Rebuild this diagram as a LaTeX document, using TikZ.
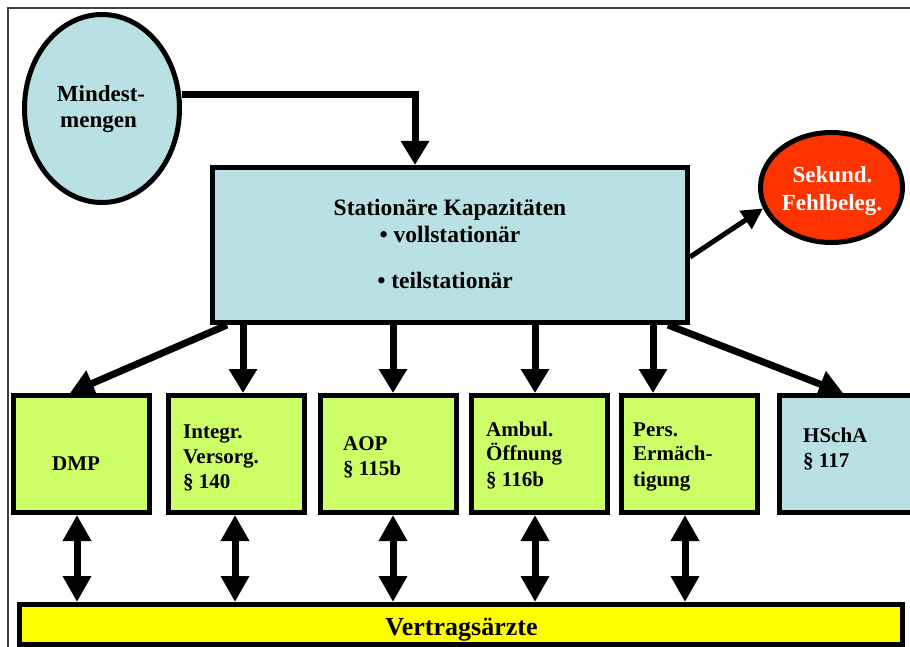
\documentclass[tikz,border=0pt]{standalone}
\usepackage{fontspec}
\setmainfont{Liberation Serif}
\usetikzlibrary{arrows.meta,shapes.geometric}
\definecolor{lblue}{RGB}{185,224,227}
\definecolor{lgreen}{RGB}{204,255,102}
\definecolor{sred}{RGB}{255,51,0}
\definecolor{byellow}{RGB}{255,255,0}
\begin{document}
\begin{tikzpicture}[x=1pt,y=-1pt,
  box/.style={draw, line width=5pt, minimum width=136pt, minimum height=117pt, fill=lgreen, inner sep=0pt},
  arr/.style={line width=7pt, -{Triangle[width=27pt,length=24pt]}},
  thinarr/.style={line width=5pt, -{Triangle[width=21pt,length=21pt]}},
  darr/.style={line width=7pt, {Triangle[width=27pt,length=26pt]}-{Triangle[width=27pt,length=26pt]}},
  btxt/.style={inner sep=0pt, anchor=base west, font=\bfseries\fontsize{21}{25}\selectfont},
  ctxt/.style={inner sep=0pt, anchor=base, font=\bfseries\fontsize{23.5}{27}\selectfont},
  frameline/.style={line width=1.5pt, black!75}]
\useasboundingbox (0,0) rectangle (910,647);
\fill[white] (0,0) rectangle (910,647);
\draw[frameline] (8,647) -- (8,8) -- (910,8);

% top nodes
\node[draw, ellipse, line width=5pt, fill=lblue, minimum width=155pt, minimum height=188pt, inner sep=0pt] (mind) at (102,108.5) {};
\node[draw, rectangle, line width=5pt, fill=lblue, minimum width=475pt, minimum height=155pt, inner sep=0pt] (main) at (450,245) {};
\node[draw, ellipse, line width=5pt, fill=sred, minimum width=142pt, minimum height=110pt, inner sep=0pt] (sek) at (831.5,187.5) {};

% bottom boxes
\node[box] (dmp) at (81.5,454) {};
\node[box] (integ) at (236,454) {};
\node[box] (aop) at (388.5,454) {};
\node[box] (ambul) at (539,454) {};
\node[box] (pers) at (689,454) {};
\node[box, fill=lblue] (hsa) at (847,454) {};
\node[draw, rectangle, line width=5pt, fill=byellow, minimum width=883pt, minimum height=40pt, inner sep=0pt] (bar) at (461,624.5) {};

% texts
\node[ctxt, font=\bfseries\fontsize{23}{27}\selectfont] (m1) at (101,102) {Mindest-};
\node[ctxt, font=\bfseries\fontsize{23}{27}\selectfont] (m2) at (98.5,128) {mengen};
\node[ctxt] (s1) at (450,215) {Stationäre Kapazitäten};
\node[ctxt] (s2) at (450,242) {• vollstationär};
\node[ctxt] (s3) at (445,288) {• teilstationär};
\node[ctxt, text=white, font=\bfseries\fontsize{23}{27}\selectfont] (k1) at (832.5,183) {Sekund.};
\node[ctxt, text=white, font=\bfseries\fontsize{23}{27}\selectfont] (k2) at (832,211) {Fehlbeleg.};

\node[btxt] (d1) at (52,470) {DMP};
\node[btxt] (i1) at (183,438) {Integr.};
\node[btxt] (i2) at (183,463) {Versorg.};
\node[btxt] (i3) at (183,488) {§ 140};
\node[btxt] (a1) at (343,450) {AOP};
\node[btxt] (a2) at (343,475) {§ 115b};
\node[btxt] (o1) at (486,436) {Ambul.};
\node[btxt] (o2) at (486,460) {Öffnung};
\node[btxt] (o3) at (486,486) {§ 116b};
\node[btxt] (p1) at (633,436) {Pers.};
\node[btxt] (p2) at (633,460) {Ermäch-};
\node[btxt] (p3) at (633,486) {tigung};
\node[btxt] (h1) at (803,442) {HSchA};
\node[btxt] (h2) at (803,467) {§ 117};
\node[inner sep=0pt, anchor=base, font=\bfseries\fontsize{26}{30}\selectfont] (v1) at (461.5,635) {Vertragsärzte};

% connectors
\draw[arr] ([yshift=13.5pt]mind.east) -| ([xshift=-35pt]main.north);
\draw[thinarr] ([yshift=-12pt]main.east) -- (sek.197);
\draw[arr] ([xshift=-223pt]main.south) -- ([xshift=-11.5pt]dmp.north);
\draw[arr] ([xshift=-207pt]main.south) -- ([xshift=7pt]integ.north);
\draw[arr] ([xshift=-57pt]main.south) -- ([xshift=4.5pt]aop.north);
\draw[arr] ([xshift=85pt]main.south) -- ([xshift=-4pt]ambul.north);
\draw[arr] ([xshift=203pt]main.south) -- ([xshift=-36pt]pers.north);
\draw[arr] ([xshift=218pt]main.south) -- ([xshift=-4pt]hsa.north);

\draw[darr] ([xshift=-4.5pt]dmp.south) -- ([xshift=-4.5pt]dmp.south |- bar.north);
\draw[darr] ([xshift=-1pt]integ.south) -- ([xshift=-1pt]integ.south |- bar.north);
\draw[darr] ([xshift=4.5pt]aop.south) -- ([xshift=4.5pt]aop.south |- bar.north);
\draw[darr] ([xshift=-4pt]ambul.south) -- ([xshift=-4pt]ambul.south |- bar.north);
\draw[darr] ([xshift=-4pt]pers.south) -- ([xshift=-4pt]pers.south |- bar.north);
\end{tikzpicture}
\end{document}
